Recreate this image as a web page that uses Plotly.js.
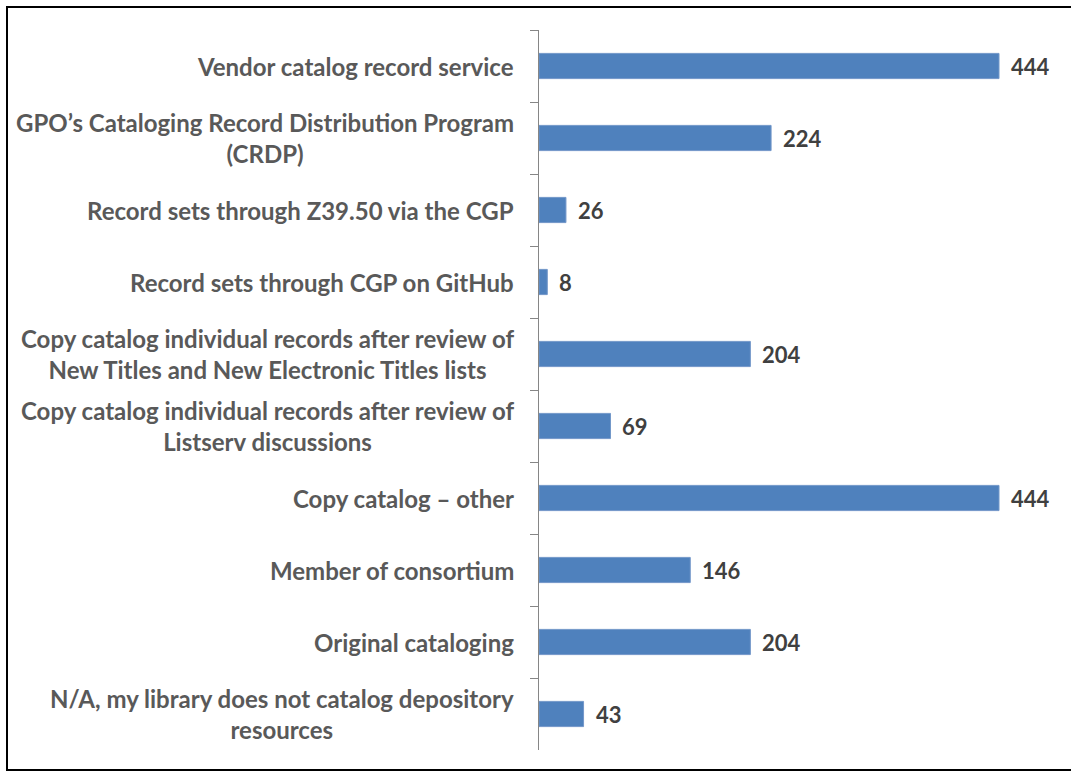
<!DOCTYPE html>
<html>
<head>
<meta charset="utf-8">
<script src="https://cdn.plot.ly/plotly-3.0.1.min.js"></script>
<style>
  html, body { margin: 0; padding: 0; background: #fff; }
  #wrap { position: relative; width: 1071px; height: 774px; overflow: hidden; }
  #chart { position: absolute; left: 0; top: 0; width: 1071px; height: 774px; }
  #frame { position: absolute; left: 6px; top: 6px; width: 1080px; height: 765px; border: 2px solid #000; box-sizing: border-box; pointer-events: none; }
</style>
</head>
<body>
<div id="wrap">
  <div id="chart"></div>
  <div id="frame"></div>
</div>
<script>
const categories = [
  "Vendor catalog record service",
  "GPO’s Cataloging Record Distribution Program<br>(CRDP)",
  "Record sets through Z39.50 via the CGP",
  "Record sets through CGP on GitHub",
  "Copy catalog individual records after review of<br>New Titles and New Electronic Titles lists",
  "Copy catalog individual records after review of<br>Listserv discussions",
  "Copy catalog – other",
  "Member of consortium",
  "Original cataloging",
  "N/A, my library does not catalog depository<br>resources"
];
const counts = [444, 224, 26, 8, 204, 69, 444, 146, 204, 43];

const FONT = "Lato, 'Open Sans', Arial, sans-serif";

const trace = {
  type: "bar",
  orientation: "h",
  y: categories,
  x: counts,
  marker: { color: "#4F81BD", line: { color: "#7397c9", width: 1 } },
  hoverinfo: "none"
};

const valueLabels = categories.map((c, i) => ({
  x: counts[i],
  y: c,
  xref: "x",
  yref: "y",
  text: String(counts[i]),
  showarrow: false,
  xanchor: "left",
  yanchor: "middle",
  xshift: 10,
  font: { family: FONT, size: 22, color: "#404040", weight: "bold" }
}));

const categoryLabels = categories.map((c) => ({
  x: 0,
  y: c,
  xref: "paper",
  yref: "y",
  text: c,
  showarrow: false,
  xanchor: "right",
  yanchor: "middle",
  align: "center",
  xshift: -23,
  font: { family: FONT, size: 24, color: "#595959", weight: "bold" }
}));

const layout = {
  width: 1071,
  height: 774,
  margin: { l: 539, r: 32, t: 30, b: 24 },
  paper_bgcolor: "#ffffff",
  plot_bgcolor: "#ffffff",
  showlegend: false,
  bargap: 0.65,
  xaxis: {
    range: [0, 482.6],
    visible: false,
    showgrid: false,
    zeroline: false
  },
  yaxis: {
    type: "category",
    autorange: "reversed",
    showline: true,
    linecolor: "#868686",
    linewidth: 1,
    ticks: "outside",
    tickson: "boundaries",
    ticklen: 8,
    tickcolor: "#868686",
    tickwidth: 1,
    showticklabels: false,
    showgrid: false,
    zeroline: false
  },
  annotations: categoryLabels.concat(valueLabels)
};

Plotly.newPlot("chart", [trace], layout, { displayModeBar: false, staticPlot: true });
</script>
</body>
</html>
